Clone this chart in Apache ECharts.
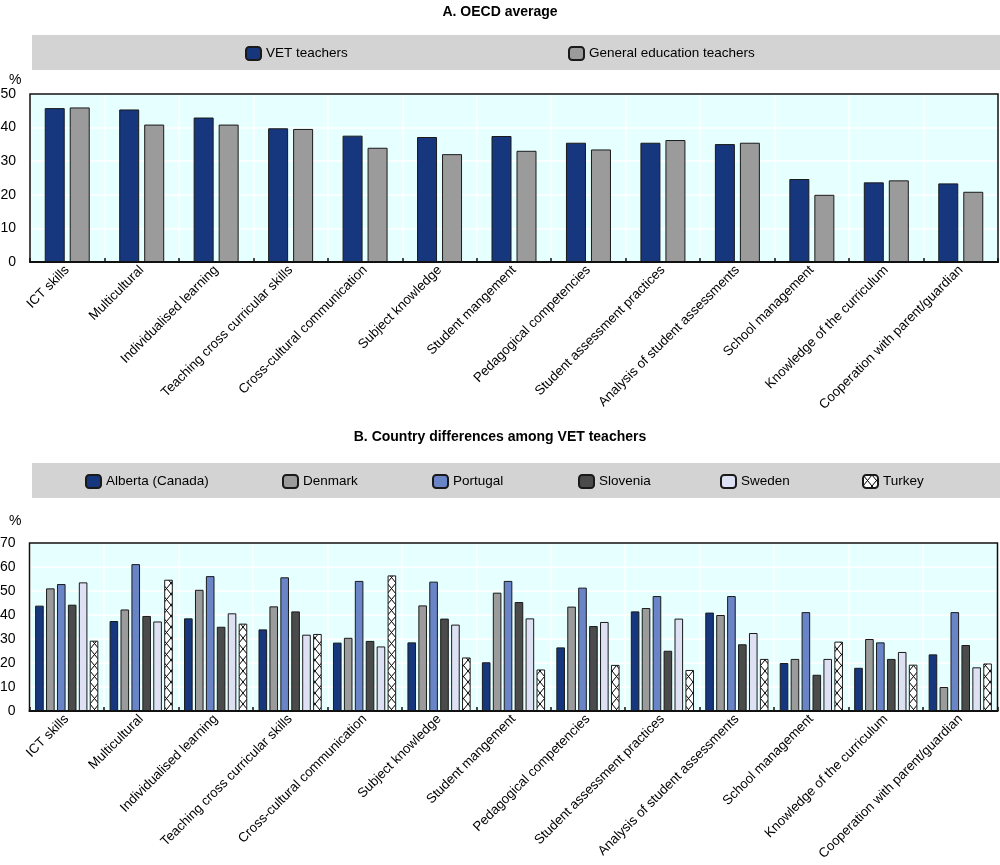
<!DOCTYPE html>
<html><head><meta charset="utf-8">
<script src="https://cdn.jsdelivr.net/npm/echarts@6/dist/echarts.min.js"></script>
<style>html,body{margin:0;padding:0;background:#fff}#c{width:1000px;height:865px}</style>
</head><body><div id="c"></div>
<script>
const categories = ["ICT skills","Multicultural","Individualised learning","Teaching cross curricular skills","Cross-cultural communication","Subject knowledge","Student mangement","Pedagogical competencies","Student assessment practices","Analysis of student assessments","School management","Knowledge of the curriculum","Cooperation with parent/guardian"];
const titleA = "A. OECD average";
const titleB = "B. Country differences among VET teachers";
const vetTeachers = [45.8,45.4,43.0,39.8,37.6,37.2,37.5,35.5,35.5,35.1,24.7,23.7,23.4];
const generalTeachers = [46.0,40.9,40.9,39.6,34.0,32.1,33.1,33.5,36.3,35.5,20.0,24.3,20.9];
const alberta  = [43.9,37.5,38.6,34.0,28.5,28.6,20.3,26.5,41.5,41.0,20.0,18.0,23.6];
const denmark  = [51.1,42.3,50.5,43.6,30.5,44.0,49.3,43.5,42.9,40.0,21.7,30.0,10.0];
const portugal = [52.9,61.2,56.2,55.7,54.2,53.9,54.2,51.4,47.9,47.9,41.2,28.6,41.2];
const slovenia = [44.3,39.6,35.1,41.5,29.2,38.5,45.4,35.4,25.1,27.8,15.1,21.7,27.5];
const sweden   = [53.6,37.3,40.7,31.8,26.9,36.0,38.6,37.1,38.5,32.5,21.7,24.6,18.2];
const turkey   = [29.3,54.7,36.4,32.1,56.5,22.3,17.3,19.2,17.1,21.7,28.9,19.3,19.8];
const yTicksA = {min:0,max:50,interval:10};
const yTicksB = {min:0,max:70,interval:10};

function hatch(){
  const c=document.createElement('canvas'); c.width=9; c.height=11;
  const g=c.getContext('2d'); g.fillStyle='#fff'; g.fillRect(0,0,9,11);
  g.strokeStyle='#000'; g.lineWidth=1; g.beginPath();
  g.moveTo(0,0); g.lineTo(9,11); g.moveTo(9,0); g.lineTo(0,11); g.stroke();
  return c;
}
const SANS = "'Liberation Sans',Arial,sans-serif";
const border = {borderColor:'#1a1a1a',borderWidth:1};

function xAx(gi){
  return {gridIndex:gi,type:'category',data:categories,boundaryGap:true,
    axisLine:{lineStyle:{color:'#111',width:2}},
    axisTick:{show:true,inside:true,length:4,lineStyle:{color:'#111',width:1.5}},
    splitLine:{show:true,lineStyle:{color:'#fff',width:1.5}},
    axisLabel:{interval:0,rotate:45,margin:6,fontSize:13.3,color:'#000',fontFamily:SANS}};
}
function yAx(gi,t){
  return {gridIndex:gi,type:'value',min:t.min,max:t.max,interval:t.interval,
    axisLine:{show:false},axisTick:{show:false},
    splitLine:{show:true,lineStyle:{color:'#fff',width:1.5}},
    axisLabel:{fontSize:14,color:'#000',margin:14,fontFamily:SANS}};
}
function bar(name,data,color,xi,bw,gap){
  return {name:name,type:'bar',xAxisIndex:xi,yAxisIndex:xi,data:data,barWidth:bw,barGap:gap,
    itemStyle:Object.assign({color:color},border),emphasis:{disabled:true}};
}
function leg(name,left,top){
  return {data:[name],left:left,top:top,padding:0,itemWidth:15,itemHeight:13,itemGap:6,
    selectedMode:false,textStyle:{fontSize:13.5,color:'#000',fontFamily:SANS}};
}
const turkeyPattern = {image:hatch(),repeat:'repeat'};
const chart = echarts.init(document.getElementById('c'),null,{renderer:'canvas'});
chart.setOption({
  animation:false,
  backgroundColor:'#fff',
  title:[
    {text:titleA,left:'center',top:5,padding:0,textStyle:{fontSize:14,fontWeight:'bold',color:'#000',fontFamily:SANS}},
    {text:titleB,left:'center',top:430,padding:0,textStyle:{fontSize:14,fontWeight:'bold',color:'#000',fontFamily:SANS}},
    {text:'%',left:9,top:73,padding:0,textStyle:{fontSize:14,fontWeight:'normal',color:'#000',fontFamily:SANS}},
    {text:'%',left:9,top:514,padding:0,textStyle:{fontSize:14,fontWeight:'normal',color:'#000',fontFamily:SANS}}
  ],
  graphic:[
    {type:'rect',shape:{x:32,y:35,width:968,height:35},style:{fill:'#d3d3d3'},z:-10,silent:true},
    {type:'rect',shape:{x:32,y:463,width:968,height:35},style:{fill:'#d3d3d3'},z:-10,silent:true},
    {type:'rect',shape:{x:30,y:94,width:968,height:168},style:{fill:null,stroke:'#111',lineWidth:1.5},z:100,silent:true},
    {type:'rect',shape:{x:29.5,y:543,width:968,height:168},style:{fill:null,stroke:'#111',lineWidth:1.5},z:100,silent:true}
  ],
  legend:[
    leg('VET teachers',245,46),
    leg('General education teachers',568,46),
    leg('Alberta (Canada)',85,474),
    leg('Denmark',282,474),
    leg('Portugal',432,474),
    leg('Slovenia',578,474),
    leg('Sweden',720,474),
    leg('Turkey',862,474)
  ],
  grid:[
    {left:30,right:2,top:94,height:168,outerBoundsMode:'none',containLabel:false,show:true,backgroundColor:'#e6ffff',borderWidth:0},
    {left:29.5,right:2.5,top:543,height:168,outerBoundsMode:'none',containLabel:false,show:true,backgroundColor:'#e6ffff',borderWidth:0}
  ],
  xAxis:[xAx(0),xAx(1)],
  yAxis:[yAx(0,yTicksA),yAx(1,yTicksB)],
  series:[
    bar('VET teachers',vetTeachers,'#16377d',0,20,'25%'),
    bar('General education teachers',generalTeachers,'#9b9b9b',0,20,'25%'),
    bar('Alberta (Canada)',alberta,'#16377d',1,8.6,'27%'),
    bar('Denmark',denmark,'#9b9b9b',1,8.6,'27%'),
    bar('Portugal',portugal,'#6a84c8',1,8.6,'27%'),
    bar('Slovenia',slovenia,'#4b4b4b',1,8.6,'27%'),
    bar('Sweden',sweden,'#dde1f3',1,8.6,'27%'),
    bar('Turkey',turkey,turkeyPattern,1,8.6,'27%')
  ]
});
</script></body></html>
